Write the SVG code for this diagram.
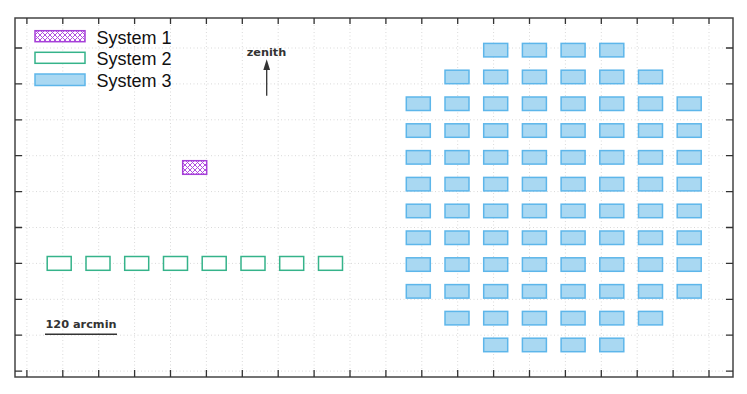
<svg xmlns="http://www.w3.org/2000/svg" width="747" height="394" viewBox="0 0 747 394">
<defs>
<pattern id="hatch" width="5" height="5" patternUnits="userSpaceOnUse">
<rect width="5" height="5" fill="#fff"/>
<path d="M0,0 L5,5 M5,0 L0,5" stroke="#b04fe0" stroke-width="1"/>
</pattern>
<style>
.grid{stroke:#d9d9d9;stroke-width:1;stroke-dasharray:1 2.5;fill:none}
.frame{stroke:#444;stroke-width:1.5;fill:none}
.tick{stroke:#333;stroke-width:1.3}
.s1{fill:url(#hatch);stroke:#a640d8;stroke-width:1.5}
.s2{fill:#fff;stroke:#35b38a;stroke-width:1.5}
.s3{fill:#a9d8f2;stroke:#5db6ea;stroke-width:1.5}
.leg{font-family:"Liberation Sans",Arial,sans-serif;font-size:18px;fill:#111}
.lbl{font-family:"DejaVu Sans",sans-serif;font-weight:bold;font-size:11.3px;fill:#333}
</style>
<marker id="arr" markerWidth="11" markerHeight="7" refX="6" refY="3.35" orient="auto" markerUnits="userSpaceOnUse" viewBox="0 0 10.7 6.7">
<path d="M0,0 L10.7,3.35 L0,6.7 Z" fill="#333"/>
</marker>
</defs>
<rect width="747" height="394" fill="#fff"/>
<g id="grid">
<path class="grid" d="M26.9,18V377M62.8,18V377M98.7,18V377M134.6,18V377M170.5,18V377M206.4,18V377M242.3,18V377M278.2,18V377M314.1,18V377M350,18V377M385.9,18V377M421.8,18V377M457.7,18V377M493.6,18V377M529.5,18V377M565.4,18V377M601.3,18V377M637.2,18V377M673.1,18V377M709,18V377"/>
<path class="grid" d="M15,48H733M15,83.9H733M15,119.8H733M15,155.7H733M15,191.6H733M15,227.5H733M15,263.4H733M15,299.3H733M15,335.2H733M15,371.1H733"/>
</g>
<g id="axes">
<rect class="frame" x="15" y="18" width="718" height="359"/>
<path class="tick" d="M26.9,18v6M62.8,18v6M98.7,18v6M134.6,18v6M170.5,18v6M206.4,18v6M242.3,18v6M278.2,18v6M314.1,18v6M350,18v6M385.9,18v6M421.8,18v6M457.7,18v6M493.6,18v6M529.5,18v6M565.4,18v6M601.3,18v6M637.2,18v6M673.1,18v6M709,18v6"/>
<path class="tick" d="M26.9,377v-7M62.8,377v-7M98.7,377v-7M134.6,377v-7M170.5,377v-7M206.4,377v-7M242.3,377v-7M278.2,377v-7M314.1,377v-7M350,377v-7M385.9,377v-7M421.8,377v-7M457.7,377v-7M493.6,377v-7M529.5,377v-7M565.4,377v-7M601.3,377v-7M637.2,377v-7M673.1,377v-7M709,377v-7"/>
<path class="tick" d="M15,48h7M15,83.9h7M15,119.8h7M15,155.7h7M15,191.6h7M15,227.5h7M15,263.4h7M15,299.3h7M15,335.2h7M15,371.1h7"/>
<path class="tick" d="M733,48h-7M733,83.9h-7M733,119.8h-7M733,155.7h-7M733,191.6h-7M733,227.5h-7M733,263.4h-7M733,299.3h-7M733,335.2h-7M733,371.1h-7"/>
</g>
<g id="legend">
<rect class="s1" x="35" y="30.7" width="50" height="11"/>
<text class="leg" x="96.5" y="43.5">System 1</text>
<rect class="s2" x="35" y="52.3" width="50" height="11"/>
<text class="leg" x="96.5" y="65">System 2</text>
<rect class="s3" x="35" y="74" width="50" height="11.5"/>
<text class="leg" x="96.5" y="86.5">System 3</text>
</g>
<g id="connectors">
<line x1="266.7" y1="95.7" x2="266.7" y2="64" stroke="#333" stroke-width="1.3" marker-end="url(#arr)"/>
<line x1="45" y1="334.3" x2="117" y2="334.3" stroke="#333" stroke-width="1.6"/>
</g>
<g id="zenith"><text class="lbl" x="266.5" y="56" text-anchor="middle">zenith</text></g>
<g id="scale"><text class="lbl" x="81" y="328.3" text-anchor="middle">120 arcmin</text></g>
<g id="system1"><rect class="s1" x="182.7" y="160.7" width="24" height="13.6"/></g>
<g id="system2">
<g id="s2-0"><rect class="s2" x="47.2" y="256.5" width="24" height="13.8"/></g>
<g id="s2-1"><rect class="s2" x="86" y="256.5" width="24" height="13.8"/></g>
<g id="s2-2"><rect class="s2" x="124.7" y="256.5" width="24" height="13.8"/></g>
<g id="s2-3"><rect class="s2" x="163.5" y="256.5" width="24" height="13.8"/></g>
<g id="s2-4"><rect class="s2" x="202.2" y="256.5" width="24" height="13.8"/></g>
<g id="s2-5"><rect class="s2" x="241" y="256.5" width="24" height="13.8"/></g>
<g id="s2-6"><rect class="s2" x="279.7" y="256.5" width="24" height="13.8"/></g>
<g id="s2-7"><rect class="s2" x="318.5" y="256.5" width="24" height="13.8"/></g>
</g>
<g id="system3">
<g id="s3-r0c2"><rect class="s3" x="483.7" y="43.4" width="24" height="13.5"/></g>
<g id="s3-r0c3"><rect class="s3" x="522.4" y="43.4" width="24" height="13.5"/></g>
<g id="s3-r0c4"><rect class="s3" x="561.1" y="43.4" width="24" height="13.5"/></g>
<g id="s3-r0c5"><rect class="s3" x="599.8" y="43.4" width="24" height="13.5"/></g>
<g id="s3-r1c1"><rect class="s3" x="445" y="70.2" width="24" height="13.5"/></g>
<g id="s3-r1c2"><rect class="s3" x="483.7" y="70.2" width="24" height="13.5"/></g>
<g id="s3-r1c3"><rect class="s3" x="522.4" y="70.2" width="24" height="13.5"/></g>
<g id="s3-r1c4"><rect class="s3" x="561.1" y="70.2" width="24" height="13.5"/></g>
<g id="s3-r1c5"><rect class="s3" x="599.8" y="70.2" width="24" height="13.5"/></g>
<g id="s3-r1c6"><rect class="s3" x="638.5" y="70.2" width="24" height="13.5"/></g>
<g id="s3-r2c0"><rect class="s3" x="406.3" y="97" width="24" height="13.5"/></g>
<g id="s3-r2c1"><rect class="s3" x="445" y="97" width="24" height="13.5"/></g>
<g id="s3-r2c2"><rect class="s3" x="483.7" y="97" width="24" height="13.5"/></g>
<g id="s3-r2c3"><rect class="s3" x="522.4" y="97" width="24" height="13.5"/></g>
<g id="s3-r2c4"><rect class="s3" x="561.1" y="97" width="24" height="13.5"/></g>
<g id="s3-r2c5"><rect class="s3" x="599.8" y="97" width="24" height="13.5"/></g>
<g id="s3-r2c6"><rect class="s3" x="638.5" y="97" width="24" height="13.5"/></g>
<g id="s3-r2c7"><rect class="s3" x="677.2" y="97" width="24" height="13.5"/></g>
<g id="s3-r3c0"><rect class="s3" x="406.3" y="123.8" width="24" height="13.5"/></g>
<g id="s3-r3c1"><rect class="s3" x="445" y="123.8" width="24" height="13.5"/></g>
<g id="s3-r3c2"><rect class="s3" x="483.7" y="123.8" width="24" height="13.5"/></g>
<g id="s3-r3c3"><rect class="s3" x="522.4" y="123.8" width="24" height="13.5"/></g>
<g id="s3-r3c4"><rect class="s3" x="561.1" y="123.8" width="24" height="13.5"/></g>
<g id="s3-r3c5"><rect class="s3" x="599.8" y="123.8" width="24" height="13.5"/></g>
<g id="s3-r3c6"><rect class="s3" x="638.5" y="123.8" width="24" height="13.5"/></g>
<g id="s3-r3c7"><rect class="s3" x="677.2" y="123.8" width="24" height="13.5"/></g>
<g id="s3-r4c0"><rect class="s3" x="406.3" y="150.6" width="24" height="13.5"/></g>
<g id="s3-r4c1"><rect class="s3" x="445" y="150.6" width="24" height="13.5"/></g>
<g id="s3-r4c2"><rect class="s3" x="483.7" y="150.6" width="24" height="13.5"/></g>
<g id="s3-r4c3"><rect class="s3" x="522.4" y="150.6" width="24" height="13.5"/></g>
<g id="s3-r4c4"><rect class="s3" x="561.1" y="150.6" width="24" height="13.5"/></g>
<g id="s3-r4c5"><rect class="s3" x="599.8" y="150.6" width="24" height="13.5"/></g>
<g id="s3-r4c6"><rect class="s3" x="638.5" y="150.6" width="24" height="13.5"/></g>
<g id="s3-r4c7"><rect class="s3" x="677.2" y="150.6" width="24" height="13.5"/></g>
<g id="s3-r5c0"><rect class="s3" x="406.3" y="177.4" width="24" height="13.5"/></g>
<g id="s3-r5c1"><rect class="s3" x="445" y="177.4" width="24" height="13.5"/></g>
<g id="s3-r5c2"><rect class="s3" x="483.7" y="177.4" width="24" height="13.5"/></g>
<g id="s3-r5c3"><rect class="s3" x="522.4" y="177.4" width="24" height="13.5"/></g>
<g id="s3-r5c4"><rect class="s3" x="561.1" y="177.4" width="24" height="13.5"/></g>
<g id="s3-r5c5"><rect class="s3" x="599.8" y="177.4" width="24" height="13.5"/></g>
<g id="s3-r5c6"><rect class="s3" x="638.5" y="177.4" width="24" height="13.5"/></g>
<g id="s3-r5c7"><rect class="s3" x="677.2" y="177.4" width="24" height="13.5"/></g>
<g id="s3-r6c0"><rect class="s3" x="406.3" y="204.2" width="24" height="13.5"/></g>
<g id="s3-r6c1"><rect class="s3" x="445" y="204.2" width="24" height="13.5"/></g>
<g id="s3-r6c2"><rect class="s3" x="483.7" y="204.2" width="24" height="13.5"/></g>
<g id="s3-r6c3"><rect class="s3" x="522.4" y="204.2" width="24" height="13.5"/></g>
<g id="s3-r6c4"><rect class="s3" x="561.1" y="204.2" width="24" height="13.5"/></g>
<g id="s3-r6c5"><rect class="s3" x="599.8" y="204.2" width="24" height="13.5"/></g>
<g id="s3-r6c6"><rect class="s3" x="638.5" y="204.2" width="24" height="13.5"/></g>
<g id="s3-r6c7"><rect class="s3" x="677.2" y="204.2" width="24" height="13.5"/></g>
<g id="s3-r7c0"><rect class="s3" x="406.3" y="231" width="24" height="13.5"/></g>
<g id="s3-r7c1"><rect class="s3" x="445" y="231" width="24" height="13.5"/></g>
<g id="s3-r7c2"><rect class="s3" x="483.7" y="231" width="24" height="13.5"/></g>
<g id="s3-r7c3"><rect class="s3" x="522.4" y="231" width="24" height="13.5"/></g>
<g id="s3-r7c4"><rect class="s3" x="561.1" y="231" width="24" height="13.5"/></g>
<g id="s3-r7c5"><rect class="s3" x="599.8" y="231" width="24" height="13.5"/></g>
<g id="s3-r7c6"><rect class="s3" x="638.5" y="231" width="24" height="13.5"/></g>
<g id="s3-r7c7"><rect class="s3" x="677.2" y="231" width="24" height="13.5"/></g>
<g id="s3-r8c0"><rect class="s3" x="406.3" y="257.8" width="24" height="13.5"/></g>
<g id="s3-r8c1"><rect class="s3" x="445" y="257.8" width="24" height="13.5"/></g>
<g id="s3-r8c2"><rect class="s3" x="483.7" y="257.8" width="24" height="13.5"/></g>
<g id="s3-r8c3"><rect class="s3" x="522.4" y="257.8" width="24" height="13.5"/></g>
<g id="s3-r8c4"><rect class="s3" x="561.1" y="257.8" width="24" height="13.5"/></g>
<g id="s3-r8c5"><rect class="s3" x="599.8" y="257.8" width="24" height="13.5"/></g>
<g id="s3-r8c6"><rect class="s3" x="638.5" y="257.8" width="24" height="13.5"/></g>
<g id="s3-r8c7"><rect class="s3" x="677.2" y="257.8" width="24" height="13.5"/></g>
<g id="s3-r9c0"><rect class="s3" x="406.3" y="284.6" width="24" height="13.5"/></g>
<g id="s3-r9c1"><rect class="s3" x="445" y="284.6" width="24" height="13.5"/></g>
<g id="s3-r9c2"><rect class="s3" x="483.7" y="284.6" width="24" height="13.5"/></g>
<g id="s3-r9c3"><rect class="s3" x="522.4" y="284.6" width="24" height="13.5"/></g>
<g id="s3-r9c4"><rect class="s3" x="561.1" y="284.6" width="24" height="13.5"/></g>
<g id="s3-r9c5"><rect class="s3" x="599.8" y="284.6" width="24" height="13.5"/></g>
<g id="s3-r9c6"><rect class="s3" x="638.5" y="284.6" width="24" height="13.5"/></g>
<g id="s3-r9c7"><rect class="s3" x="677.2" y="284.6" width="24" height="13.5"/></g>
<g id="s3-r10c1"><rect class="s3" x="445" y="311.4" width="24" height="13.5"/></g>
<g id="s3-r10c2"><rect class="s3" x="483.7" y="311.4" width="24" height="13.5"/></g>
<g id="s3-r10c3"><rect class="s3" x="522.4" y="311.4" width="24" height="13.5"/></g>
<g id="s3-r10c4"><rect class="s3" x="561.1" y="311.4" width="24" height="13.5"/></g>
<g id="s3-r10c5"><rect class="s3" x="599.8" y="311.4" width="24" height="13.5"/></g>
<g id="s3-r10c6"><rect class="s3" x="638.5" y="311.4" width="24" height="13.5"/></g>
<g id="s3-r11c2"><rect class="s3" x="483.7" y="338.2" width="24" height="13.5"/></g>
<g id="s3-r11c3"><rect class="s3" x="522.4" y="338.2" width="24" height="13.5"/></g>
<g id="s3-r11c4"><rect class="s3" x="561.1" y="338.2" width="24" height="13.5"/></g>
<g id="s3-r11c5"><rect class="s3" x="599.8" y="338.2" width="24" height="13.5"/></g>
</g>
</svg>
